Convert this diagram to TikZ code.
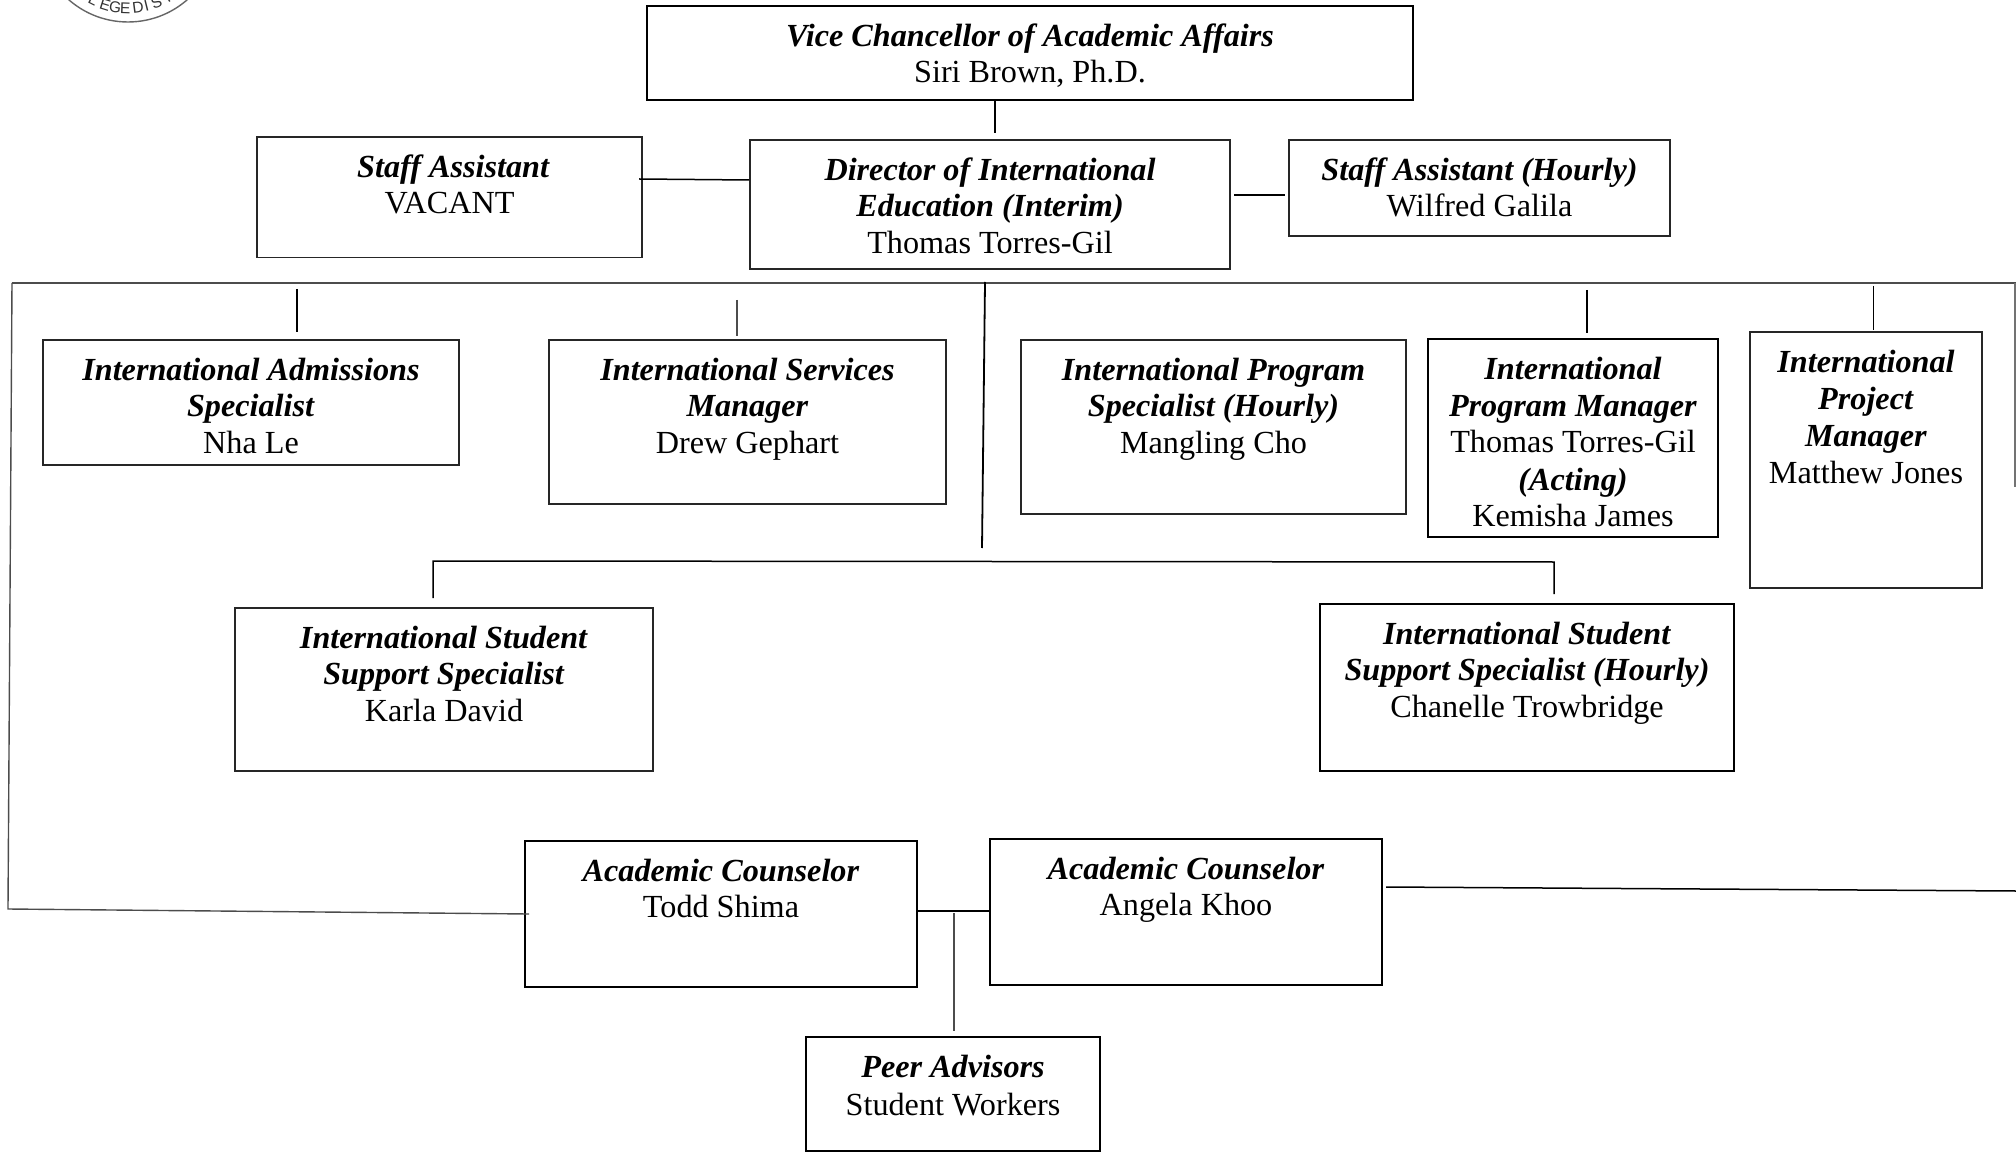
\documentclass[tikz,border=0pt]{standalone}
\usepackage{fontspec}
\setmainfont{Liberation Serif}
\newfontfamily\sealfont{Liberation Sans}
\tikzset{
  x=0.5pt,y=-0.5pt,
  thinbox/.style={draw=black!85,line width=0.55pt},
  midbox/.style={draw=black,line width=1.05pt},
  heavybox/.style={draw=black,line width=1.4pt},
  link/.style={draw=black,line width=0.75pt},
  graylink/.style={draw=black!70,line width=1pt},
  fadelink/.style={draw=black!55,line width=0.6pt},
  seal/.style={draw=black!60,line width=0.7pt},
  sealtext/.style={inner sep=0pt,text=black!80,font=\sealfont\fontsize{7.8}{9}\selectfont}
}
\newlength{\boxw}\newlength{\boxh}
% name, x1, y1, x2, y2, style, text
\newcommand{\orgbox}[7]{%
  \pgfmathsetlength{\boxw}{((#4)-(#2))*0.5pt}%
  \pgfmathsetlength{\boxh}{((#5)-(#3))*0.5pt}%
  \node[#6,anchor=north west,inner sep=0pt,outer sep=0pt] (#1) at (#2,#3)
    {\parbox[t][\boxh][t]{\boxw}{\vspace*{7.26pt}\centering\fontsize{16.1}{18.25}\selectfont\strut #7\par}};%
}
\newcommand{\ttl}[1]{\textbf{\textit{#1}}}
\begin{document}
\begin{tikzpicture}
\useasboundingbox (0,0) rectangle (2016,1154);
\clip (0,0) rectangle (2016,1154);
% seal fragment
\draw[seal] (128,-68) circle[radius=90];
\foreach \ang/\letter in {-38/L,-27/L,-17.5/E,-9.7/G,-2/E,7.5/D,14/I,22/S,31/T,41/R}{
  \node[sealtext,rotate=\ang] (seal\letter\ang) at ({128+76*sin(\ang)},{-68+76*cos(\ang)}) {\letter};
}
% boxes
\orgbox{vc}{647}{6}{1413}{100}{midbox}{\ttl{Vice Chancellor of Academic Affairs}\\Siri Brown, Ph.D.}
\orgbox{staff}{257}{137}{642}{257.5}{thinbox}{\ttl{\hspace*{4pt}Staff Assistant}\\VACANT}
\orgbox{dir}{750}{140}{1230}{269}{thinbox}{\ttl{Director of International}\\\ttl{Education (Interim)}\\Thomas Torres-Gil}
\orgbox{hourly}{1289}{140}{1670}{236}{thinbox}{\ttl{Staff Assistant (Hourly)}\\Wilfred Galila}
\orgbox{adm}{43}{340}{459}{465}{thinbox}{\ttl{International Admissions}\\\ttl{Specialist}\\Nha Le}
\orgbox{serv}{549}{340}{946}{504}{thinbox}{\ttl{International Services}\\\ttl{Manager}\\Drew Gephart}
\orgbox{prog}{1021}{340}{1406}{514}{thinbox}{\ttl{International Program}\\\ttl{Specialist (Hourly)}\\Mangling Cho}
\orgbox{pman}{1428}{339}{1718}{537}{heavybox}{\ttl{International}\\[0.3pt]\ttl{Program Manager}\\Thomas Torres-Gil\\[0.5pt]\ttl{(Acting)}\\Kemisha James}
\orgbox{proj}{1750}{332}{1982}{588}{thinbox}{\ttl{International}\\[0.3pt]\ttl{Project}\\[0.3pt]\ttl{Manager}\\[0.3pt]Matthew Jones}
\orgbox{sup}{235}{608}{653}{771}{thinbox}{\ttl{International Student}\\\ttl{Support Specialist}\\Karla David}
\orgbox{suph}{1320}{604}{1734}{771}{midbox}{\ttl{International Student}\\\ttl{Support Specialist (Hourly)}\\Chanelle Trowbridge}
\orgbox{acone}{525}{841}{917}{987}{midbox}{\ttl{Academic Counselor}\\Todd Shima}
\orgbox{actwo}{990}{839}{1382}{985}{midbox}{\ttl{Academic Counselor}\\Angela Khoo}
\orgbox{peer}{806}{1037}{1100}{1151}{midbox}{\ttl{Peer Advisors}\\[1.2pt]Student Workers}
% free ends of the connectors
\coordinate (vcA) at (995,101); \coordinate (vcB) at (995,133);
\coordinate (saA) at (639,179); \coordinate (saB) at (749,180);
\coordinate (shA) at (1234,195); \coordinate (shB) at (1285,195);
\coordinate (topL) at (12,283); \coordinate (topR) at (2016,283);
\coordinate (leftB) at (8,909); \coordinate (lowL) at (529,914);
\coordinate (rightT) at (2015,283); \coordinate (rightB) at (2015,487);
\coordinate (lowRA) at (1386,887); \coordinate (lowRB) at (2016,891);
\coordinate (admA) at (297,289); \coordinate (admB) at (297,332);
\coordinate (servA) at (737,300); \coordinate (servB) at (737,336);
\coordinate (pmA) at (1587,290); \coordinate (pmB) at (1587,333);
\coordinate (prA) at (1873.5,286); \coordinate (prB) at (1873.5,330);
\coordinate (midA) at (985,282); \coordinate (midB) at (982,548);
\coordinate (barL) at (433,561); \coordinate (barR) at (1554,562);
\coordinate (supE) at (433,598); \coordinate (suphE) at (1554,594);
\coordinate (acA) at (917,911); \coordinate (acB) at (990,911);
\coordinate (peerA) at (954,913); \coordinate (peerB) at (954,1031);
% connectors
\draw[link] (vcA) -- (vcB);
\draw[link] (saA) -- (saB);
\draw[link] (shA) -- (shB);
\draw[graylink] (topL) -- (topR);
\draw[graylink,line width=0.7pt] (topL) -- (leftB) -- (lowL);
\draw[fadelink] (rightT) -- (rightB);
\draw[link] (lowRA) -- (lowRB);
\draw[link] (admA) -- (admB);
\draw[graylink,line width=0.6pt] (servA) -- (servB);
\draw[link] (pmA) -- (pmB);
\draw[link,line width=0.9pt] (prA) -- (prB);
\draw[link,line width=0.9pt] (midA) -- (midB);
\draw[link] (supE) -- (barL) -- (barR) -- (suphE);
\draw[link,line width=0.9pt] (acA) -- (acB);
\draw[graylink] (peerA) -- (peerB);
\end{tikzpicture}
\end{document}
